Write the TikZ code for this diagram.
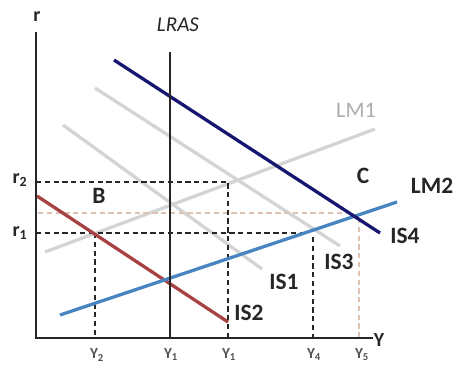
\documentclass[tikz,border=0pt]{standalone}
\usepackage{fontspec}
\setmainfont{Carlito}
\usepackage{xcolor}
\usepackage{tikz}
\usetikzlibrary{positioning}
\definecolor{InkGray}{RGB}{38, 38, 38}
\definecolor{NavyIS}{RGB}{22, 22, 112}
\definecolor{SkyLM}{RGB}{72, 132, 192}
\definecolor{BrickIS}{RGB}{168, 66, 66}
\definecolor{PaleGray}{RGB}{212, 212, 212}
\definecolor{LabelGray}{RGB}{172, 172, 172}
\definecolor{TanGuide}{RGB}{222, 194, 178}
\tikzset{
    axisline/.style={draw=InkGray, line width=2.4pt},
    guide/.style={draw=InkGray, line width=1.6pt, dash pattern=on 4.5pt off 3pt},
    softguide/.style={draw=TanGuide, line width=1.4pt, dash pattern=on 4.5pt off 3pt},
    curve/.style={line width=2.8pt},
    biglbl/.style={font=\fontsize{20}{24}\selectfont\bfseries, text=InkGray, inner sep=1pt},
    axlbl/.style={font=\fontsize{17}{20}\selectfont\bfseries, text=InkGray, inner sep=1pt},
    ticklbl/.style={font=\fontsize{13}{15}\selectfont\bfseries, text=InkGray!80, inner sep=1pt},
}

\begin{document}
\begin{tikzpicture}[x=0.03cm, y=-0.03cm]
    \useasboundingbox (0,0) rectangle (455,369);
    % axes and fixed points
    \coordinate (O) at (36,338);
    \coordinate (rtop) at (36,32);
    \coordinate (yend) at (373,338);
    \coordinate (lrasT) at (170,52);
    \coordinate (lrasB) at (170,338);
    % guide points
    \coordinate (r2L) at (36,182);
    \coordinate (r2R) at (228,182);
    \coordinate (Y1b) at (228,338);
    \coordinate (r1L) at (36,233);
    \coordinate (r1R) at (303,233);
    \coordinate (Y2t) at (95,233);
    \coordinate (Y2b) at (95,338);
    \coordinate (Y4t) at (313,237);
    \coordinate (Y4b) at (313,338);
    \coordinate (rCL) at (38,213);
    \coordinate (rCR) at (354,213);
    \coordinate (Y5t) at (359,218);
    \coordinate (Y5b) at (359,338);
    % curve ends
    \coordinate (is4a) at (114,60);  \coordinate (is4b) at (380,233);
    \coordinate (is3a) at (95,88);   \coordinate (is3b) at (340,246);
    \coordinate (is1a) at (63,125);  \coordinate (is1b) at (262,269);
    \coordinate (is2a) at (37,196);  \coordinate (is2b) at (228,322);
    \coordinate (lm1a) at (45,252);  \coordinate (lm1b) at (375,129);
    \coordinate (lm2a) at (60,315);  \coordinate (lm2b) at (397,202);

    % pale curves
    \draw[curve, PaleGray] (is3a) -- (is3b);
    \draw[curve, PaleGray] (is1a) -- (is1b);
    \draw[curve, PaleGray] (lm1a) -- (lm1b);

    % guides
    \draw[softguide] (rCL) -- (rCR);
    \draw[softguide] (Y5t) -- (Y5b);
    \draw[guide] (r2L) -- (r2R) -- (Y1b);
    \draw[guide] (r1L) -- (r1R);
    \draw[guide] (Y2t) -- (Y2b);
    \draw[guide] (Y4t) -- (Y4b);

    % strong curves
    \draw[curve, BrickIS] (is2a) -- (is2b);
    \draw[curve, SkyLM] (lm2a) -- (lm2b);
    \draw[curve, NavyIS] (is4a) -- (is4b);

    % axes
    \draw[axisline] (lrasT) -- (lrasB);
    \draw[axisline] (rtop) -- (O) -- (yend);

    % labels
    \node[axlbl] (rlbl) at (37,17) {r};
    \node[axlbl] (Ylbl) at (379,340) {Y};
    \node[font=\fontsize{18}{21}\selectfont\itshape, text=InkGray, inner sep=1pt] (lras) at (178,25) {LRAS};
    \node[axlbl] (r2lbl) at (20,180) {r\textsubscript{2}};
    \node[axlbl] (r1lbl) at (20,233) {r\textsubscript{1}};
    \node[biglbl] (Blbl) at (99,196) {B};
    \node[biglbl] (Clbl) at (363,176) {C};
    \node[font=\fontsize{19}{22}\selectfont, text=LabelGray, inner sep=1pt] (lm1lbl) at (356,110) {LM1};
    \node[biglbl] (lm2lbl) at (432,186) {LM2};
    \node[biglbl] (is4lbl) at (405,236) {IS4};
    \node[biglbl] (is3lbl) at (339,262) {IS3};
    \node[biglbl] (is1lbl) at (284,282) {IS1};
    \node[biglbl] (is2lbl) at (249,313) {IS2};
    \node[ticklbl] (ty2) at (97,355) {Y\textsubscript{2}};
    \node[ticklbl] (ty1a) at (171,355) {Y\textsubscript{1}};
    \node[ticklbl] (ty1b) at (229,355) {Y\textsubscript{1}};
    \node[ticklbl] (ty4) at (314,355) {Y\textsubscript{4}};
    \node[ticklbl] (ty5) at (362,355) {Y\textsubscript{5}};
\end{tikzpicture}
\end{document}
